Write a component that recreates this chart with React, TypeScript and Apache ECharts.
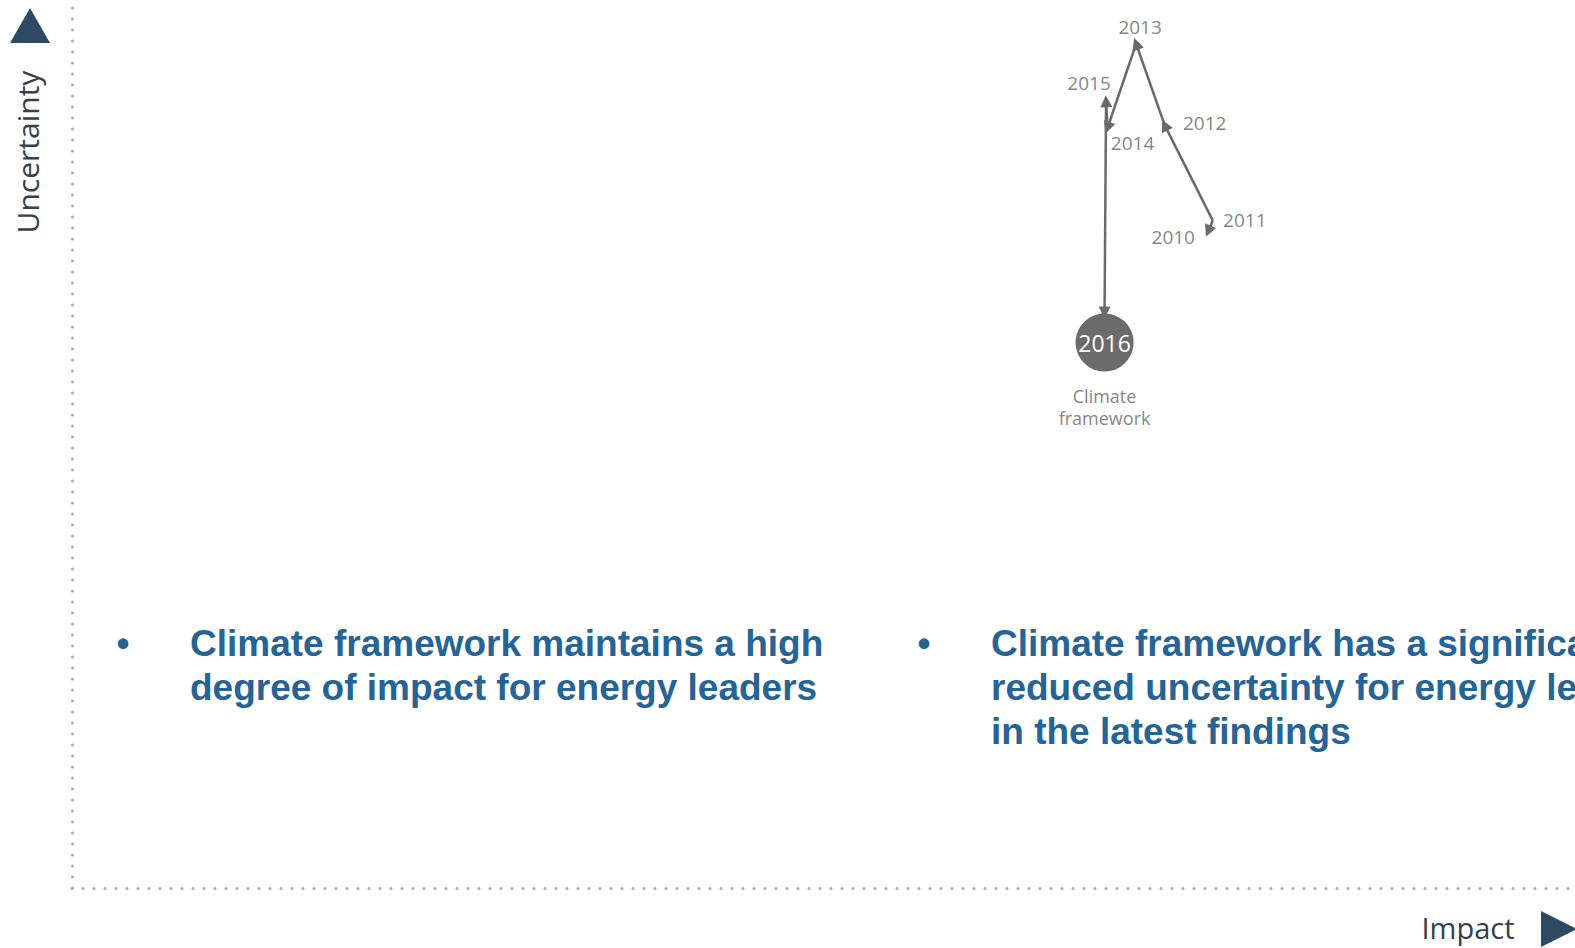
import React, { useEffect, useRef } from "react";
import * as echarts from "echarts";

// ---- Data ----
const years = ["2010", "2011", "2012", "2013", "2014", "2015", "2016"];
// Impact (x) and Uncertainty (y) on a 0–100 scale
const impact = [75.6, 75.9, 72.7, 70.8, 68.9, 68.8, 68.7];
const uncertainty = [74.3, 75.5, 86.3, 95.5, 86.0, 89.0, 61.7];
// trajectory segments as [fromIndex, toIndex]
const pathSegments = [
  [1, 0],
  [1, 2],
  [2, 3],
  [3, 4],
  [4, 5],
  [5, 6],
];
const highlightIndex = 6;
const highlightName = "Climate\nframework";
const bulletLeft = [
  "Climate framework maintains a high",
  "degree of impact for energy leaders",
];
const bulletRight = [
  "Climate framework has a significantly",
  "reduced uncertainty for energy leaders",
  "in the latest findings",
];
const xAxisName = "Impact";
const yAxisName = "Uncertainty";

// ---- Styles ----
const GREY = "#6a6a6a";
const LABEL_GREY = "#646464";
const CIRCLE = "#6b6b6b";
const NAVY = "#2e4a63";
const AXIS_TEXT = "#33414f";
const BLUE = "#266396";
const DOT = "#a9a9a9";
const CIRCLE_SIZE = 58;
const ARROW_GAP_UNITS = 3.4; // gap between last arrow and circle, in uncertainty units
const labelOffsets: Record<string, [number, number]> = {
  "2010": [-35, 6],
  "2011": [32, -1],
  "2012": [40, -2],
  "2013": [4, -17],
  "2014": [25, 15],
  "2015": [-17, -18],
};

export default function App() {
  const ref = useRef<HTMLDivElement>(null);

  useEffect(() => {
    if (!ref.current) return;
    const chart = echarts.init(ref.current, null, { renderer: "svg" });

    const lineData = pathSegments.map(([a, b]) => {
      const endY = b === highlightIndex ? uncertainty[b] + ARROW_GAP_UNITS : uncertainty[b];
      return {
        coords: [
          [impact[a], uncertainty[a]],
          [impact[b], endY],
        ],
      };
    });

    const yearPoints = years
      .map((y, i) => ({ y, i }))
      .filter((d) => d.i !== highlightIndex)
      .map(({ y, i }) => ({
        name: y,
        value: [impact[i], uncertainty[i]],
        label: { offset: labelOffsets[y] || [0, 0] },
      }));

    const dotted = {
      show: true,
      lineStyle: { color: DOT, width: 3, type: [0, 11], cap: "round" },
    };

    const bulletFont = 'bold 37px Arial, "Liberation Sans", sans-serif';
    const clear = "rgba(0,0,0,0)";

    chart.setOption({
      animation: false,
      backgroundColor: "#ffffff",
      grid: { left: 72, right: 0, top: 4, bottom: 60, containLabel: false },
      xAxis: {
        type: "value",
        min: 0,
        max: 100,
        axisLine: dotted,
        axisTick: { show: false },
        axisLabel: { show: false },
        splitLine: { show: false },
      },
      yAxis: {
        type: "value",
        min: 0,
        max: 100,
        axisLine: dotted,
        axisTick: { show: false },
        axisLabel: { show: false },
        splitLine: { show: false },
      },
      series: [
        {
          type: "lines",
          coordinateSystem: "cartesian2d",
          symbol: ["none", "triangle"],
          symbolSize: 12,
          silent: true,
          lineStyle: { color: GREY, width: 2.5, opacity: 1, curveness: 0 },
          data: lineData,
          z: 2,
        },
        {
          type: "scatter",
          symbolSize: 1,
          itemStyle: { color: clear },
          silent: true,
          label: {
            show: true,
            position: "inside",
            formatter: "{b}",
            color: LABEL_GREY,
            fontSize: 19,
            fontFamily: '"Open Sans", sans-serif',
            align: "center",
            verticalAlign: "middle",
          },
          data: yearPoints,
          z: 3,
        },
        {
          type: "scatter",
          symbolSize: CIRCLE_SIZE,
          silent: true,
          itemStyle: { color: CIRCLE, opacity: 1 },
          label: {
            show: true,
            position: "inside",
            formatter: years[highlightIndex],
            color: "#ffffff",
            fontSize: 23,
            fontFamily: '"Open Sans", sans-serif',
          },
          data: [[impact[highlightIndex], uncertainty[highlightIndex]]],
          z: 4,
        },
        {
          type: "scatter",
          symbolSize: CIRCLE_SIZE,
          silent: true,
          itemStyle: { color: clear },
          label: {
            show: true,
            position: "bottom",
            distance: 13,
            formatter: highlightName,
            color: LABEL_GREY,
            fontSize: 18,
            lineHeight: 22,
            align: "center",
            fontFamily: '"Open Sans", sans-serif',
          },
          data: [[impact[highlightIndex], uncertainty[highlightIndex]]],
          z: 4,
        },
      ],
      graphic: [
        {
          type: "polygon",
          shape: { points: [[10, 43], [50, 43], [30, 8]] },
          style: { fill: NAVY },
        },
        {
          type: "polygon",
          shape: { points: [[1541, 911], [1541, 947], [1577, 929]] },
          style: { fill: NAVY },
        },
        {
          type: "text",
          x: 27,
          y: 152,
          rotation: Math.PI / 2,
          style: {
            text: yAxisName,
            font: '30px "Open Sans", sans-serif',
            fill: AXIS_TEXT,
            align: "center",
            verticalAlign: "middle",
          },
        },
        {
          type: "text",
          x: 1468,
          y: 927,
          style: {
            text: xAxisName,
            font: '29px "Open Sans", sans-serif',
            fill: AXIS_TEXT,
            align: "center",
            verticalAlign: "middle",
          },
        },
        {
          type: "text",
          x: 123,
          y: 643,
          style: { text: "•", font: bulletFont, fill: BLUE, align: "center", verticalAlign: "middle" },
        },
        {
          type: "text",
          x: 924,
          y: 643,
          style: { text: "•", font: bulletFont, fill: BLUE, align: "center", verticalAlign: "middle" },
        },
        {
          type: "text",
          x: 190,
          y: 621,
          style: {
            text: bulletLeft.join("\n"),
            font: bulletFont,
            fill: BLUE,
            lineHeight: 44,
            align: "left",
            verticalAlign: "top",
          },
        },
        {
          type: "text",
          x: 991,
          y: 621,
          style: {
            text: bulletRight.join("\n"),
            font: bulletFont,
            fill: BLUE,
            lineHeight: 44,
            align: "left",
            verticalAlign: "top",
          },
        },
      ],
    });

    return () => chart.dispose();
  }, []);

  return (
    <div
      ref={ref}
      style={{ position: "fixed", left: 0, top: 0, width: 1575, height: 948, background: "#fff" }}
    />
  );
}
